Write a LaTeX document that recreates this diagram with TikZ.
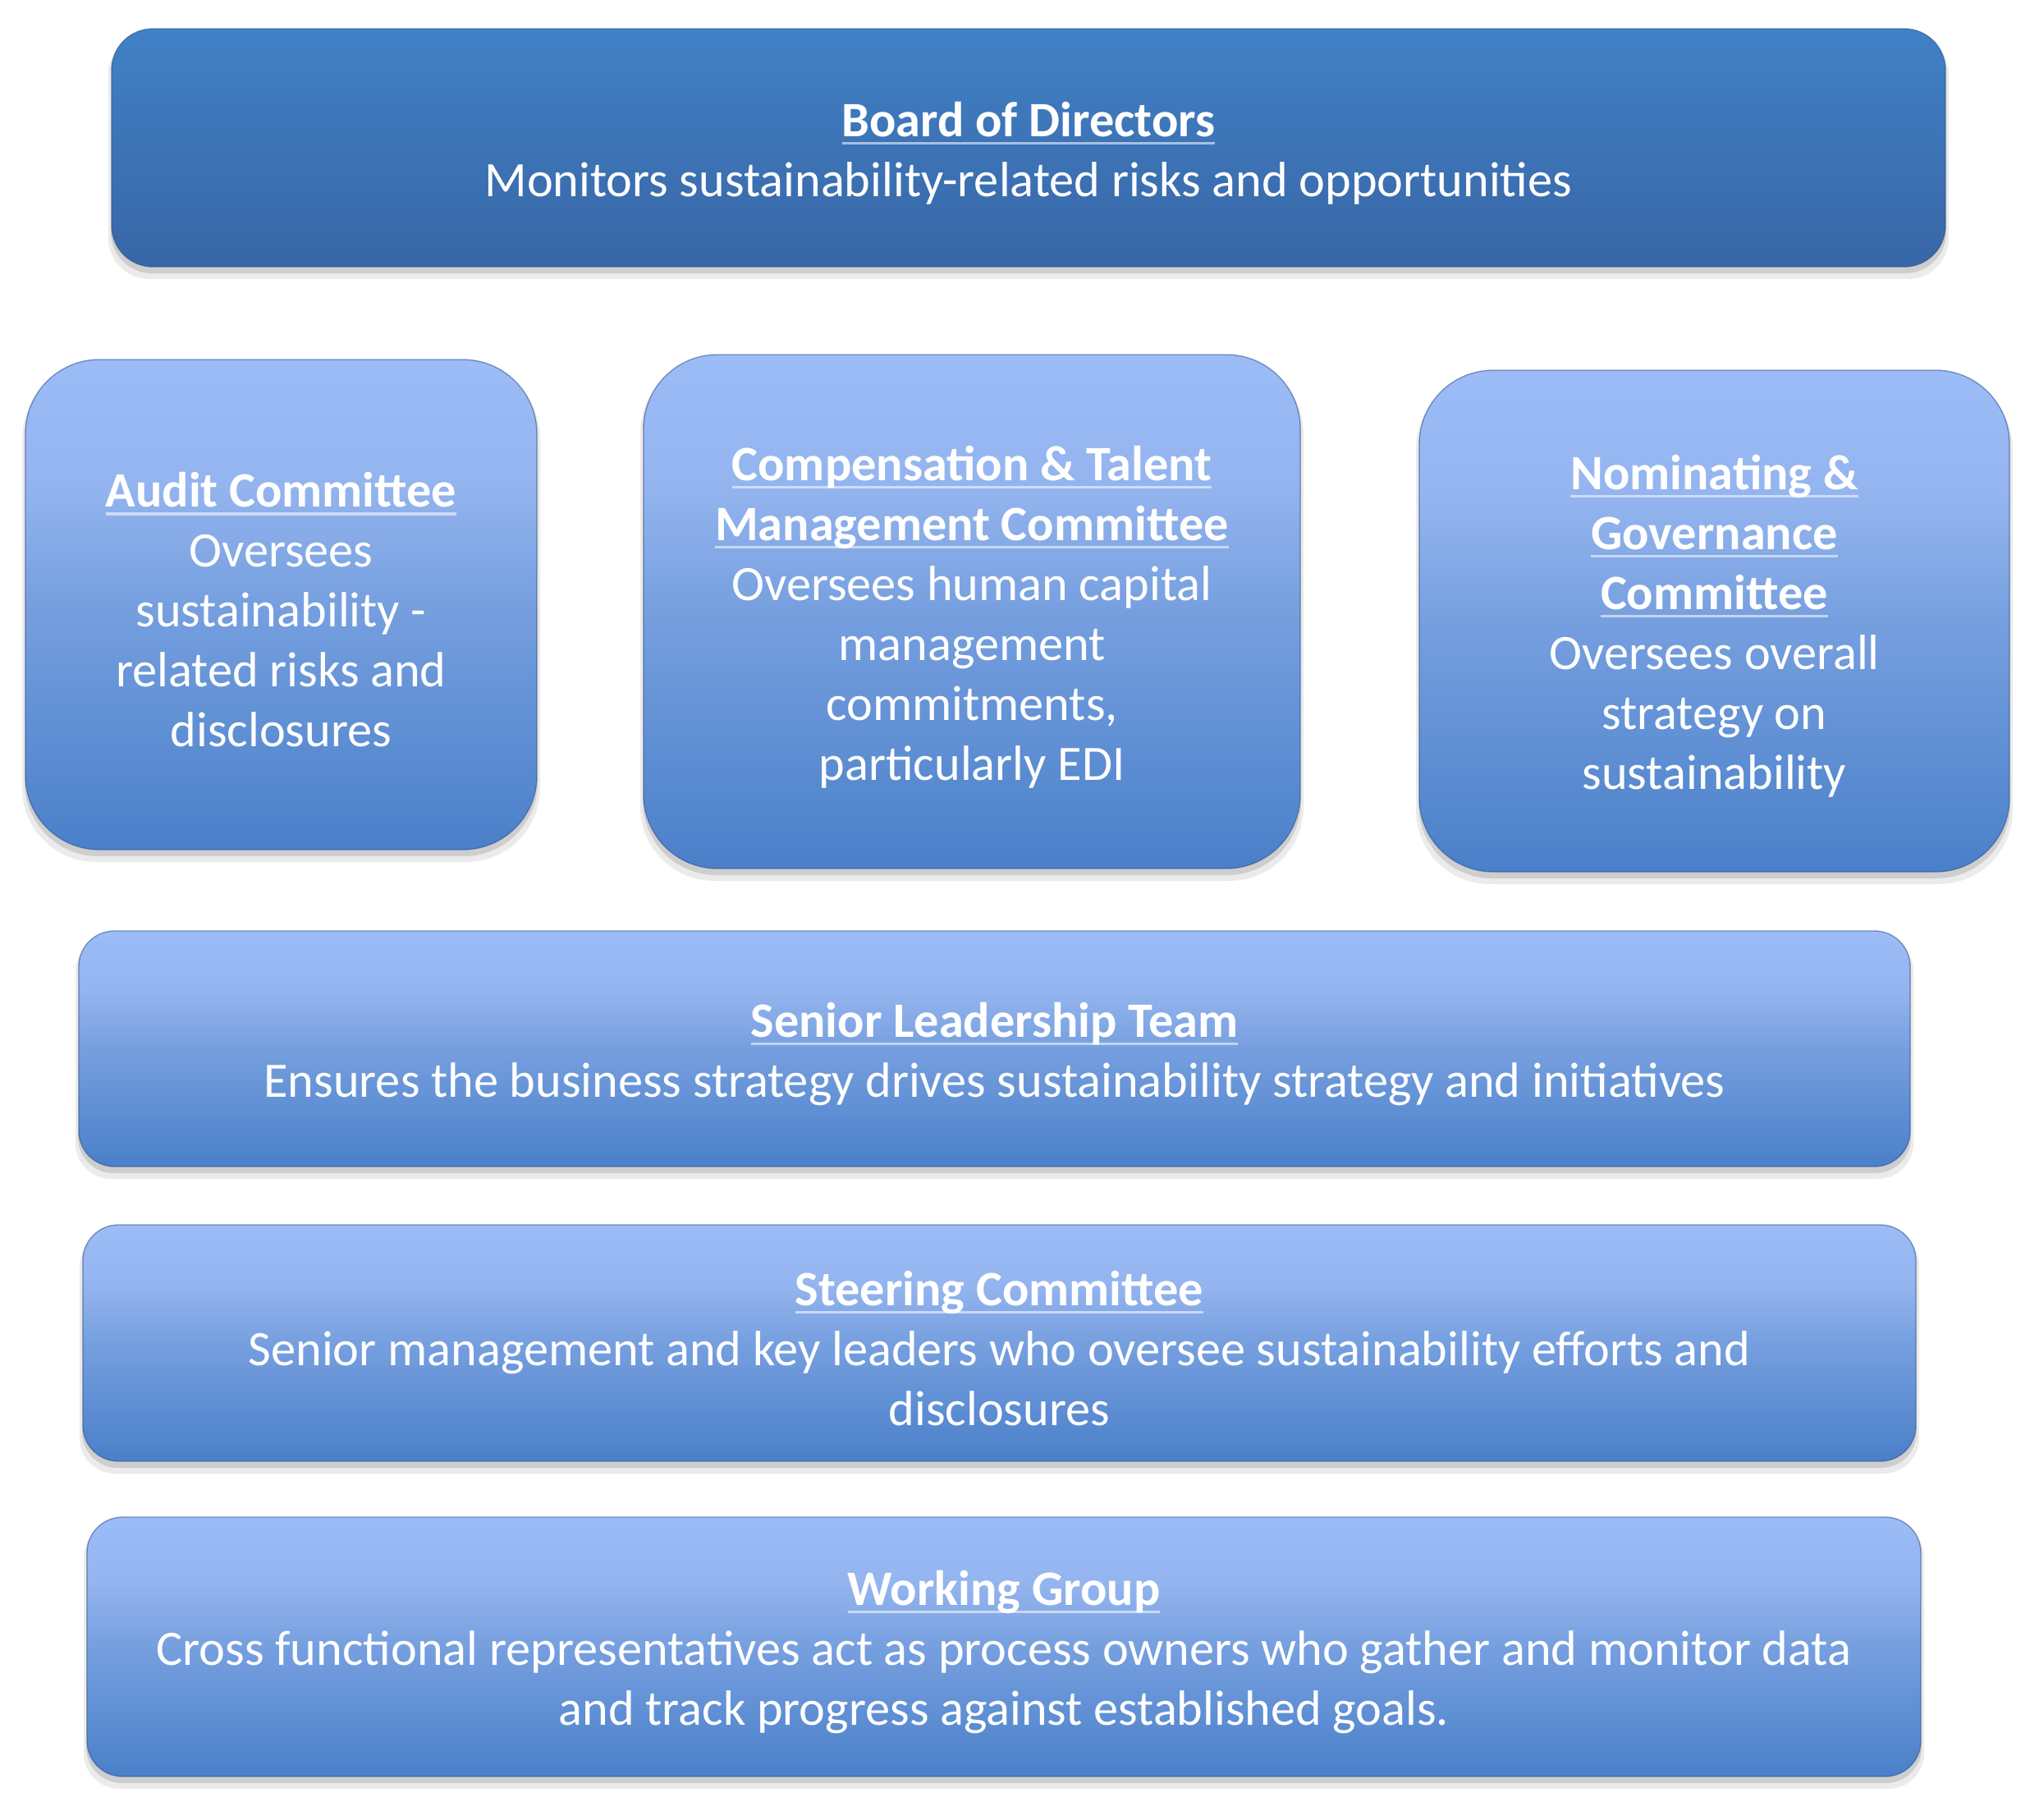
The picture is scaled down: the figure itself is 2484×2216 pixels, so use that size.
\documentclass[tikz,border=0pt]{standalone}
\usepackage{fontspec}
\setmainfont{Carlito}
\definecolor{ltop}{HTML}{9BBCF6}
\definecolor{lupper}{HTML}{93B4EE}
\definecolor{lmid}{HTML}{769FDF}
\definecolor{lbot}{HTML}{4A80C9}
\definecolor{dtop}{HTML}{4181C6}
\definecolor{dbot}{HTML}{3866A6}
\definecolor{edgeblue}{HTML}{2B4E8C}
\pgfdeclareverticalshading{lightbox}{100bp}{color(0bp)=(lbot); color(25bp)=(lbot); color(50bp)=(lmid); color(62bp)=(lupper); color(75bp)=(ltop); color(100bp)=(ltop)}
\pgfdeclareverticalshading{darkbox}{100bp}{color(0bp)=(dbot); color(25bp)=(dbot); color(75bp)=(dtop); color(100bp)=(dtop)}
\newbox\myulbox
\newcommand\myul[1]{\setbox\myulbox=\hbox{#1}\leavevmode\rlap{\rule[-0.16em]{\wd\myulbox}{0.055em}}\box\myulbox}
\tikzset{
  govbox/.style={text=white, align=center, inner sep=0pt, draw=edgeblue, draw opacity=0.55, line width=0.4pt,
    font=\fontsize{18.1}{21.9}\selectfont},
  shadowA/.style={fill=black, opacity=0.08},
  shadowB/.style={fill=black, opacity=0.12}
}
\newcommand\govnode[8]{%
  \fill[shadowA, rounded corners=#6] (#2-4,#3+6) rectangle (#4+4,#5+15);
  \fill[shadowB, rounded corners=#6] (#2-1,#3+4) rectangle (#4+1,#5+8);
  \node[govbox, shading=#7, rounded corners=#6, minimum width={(#4-#2)*0.3pt}, minimum height={(#5-#3)*0.3pt}] (#1) at ({(#2+#4)/2},{(#3+#5)/2}) {\rule{0pt}{16.6pt}#8};
}
\begin{document}
\begin{tikzpicture}[x=0.3pt,y=-0.3pt]
\useasboundingbox[fill=white] (0,0) rectangle (2484,2216);
\govnode{board}{136}{35}{2370}{325}{15pt}{darkbox}{\textbf{\myul{Board of Directors}}\\Monitors sustainability-related risks and opportunities}
\govnode{audit}{31}{438}{654}{1035}{27pt}{lightbox}{\textbf{\myul{Audit Committee}}\\Oversees\\sustainability -\\related risks and\\disclosures}
\govnode{comp}{784}{432}{1584}{1058}{27pt}{lightbox}{\textbf{\myul{Compensation \& Talent}}\\\textbf{\myul{Management Committee}}\\Oversees human capital\\management\\commitments,\\particularly EDI}
\govnode{nom}{1729}{451}{2448}{1062}{27pt}{lightbox}{\textbf{\myul{Nominating \&}}\\\textbf{\myul{Governance}}\\\textbf{\myul{Committee}}\\Oversees overall\\strategy on\\sustainability}
\govnode{senior}{96}{1134}{2327}{1421}{13pt}{lightbox}{\textbf{\myul{Senior Leadership Team}}\\Ensures the business strategy drives sustainability strategy and initiatives}
\govnode{steer}{101}{1492}{2334}{1780}{13pt}{lightbox}{\textbf{\myul{Steering Committee}}\\Senior management and key leaders who oversee sustainability efforts and\\disclosures}
\govnode{work}{106}{1848}{2340}{2164}{13pt}{lightbox}{\textbf{\myul{Working Group}}\\Cross functional representatives act as process owners who gather and monitor data\\and track progress against established goals.}
\end{tikzpicture}
\end{document}
